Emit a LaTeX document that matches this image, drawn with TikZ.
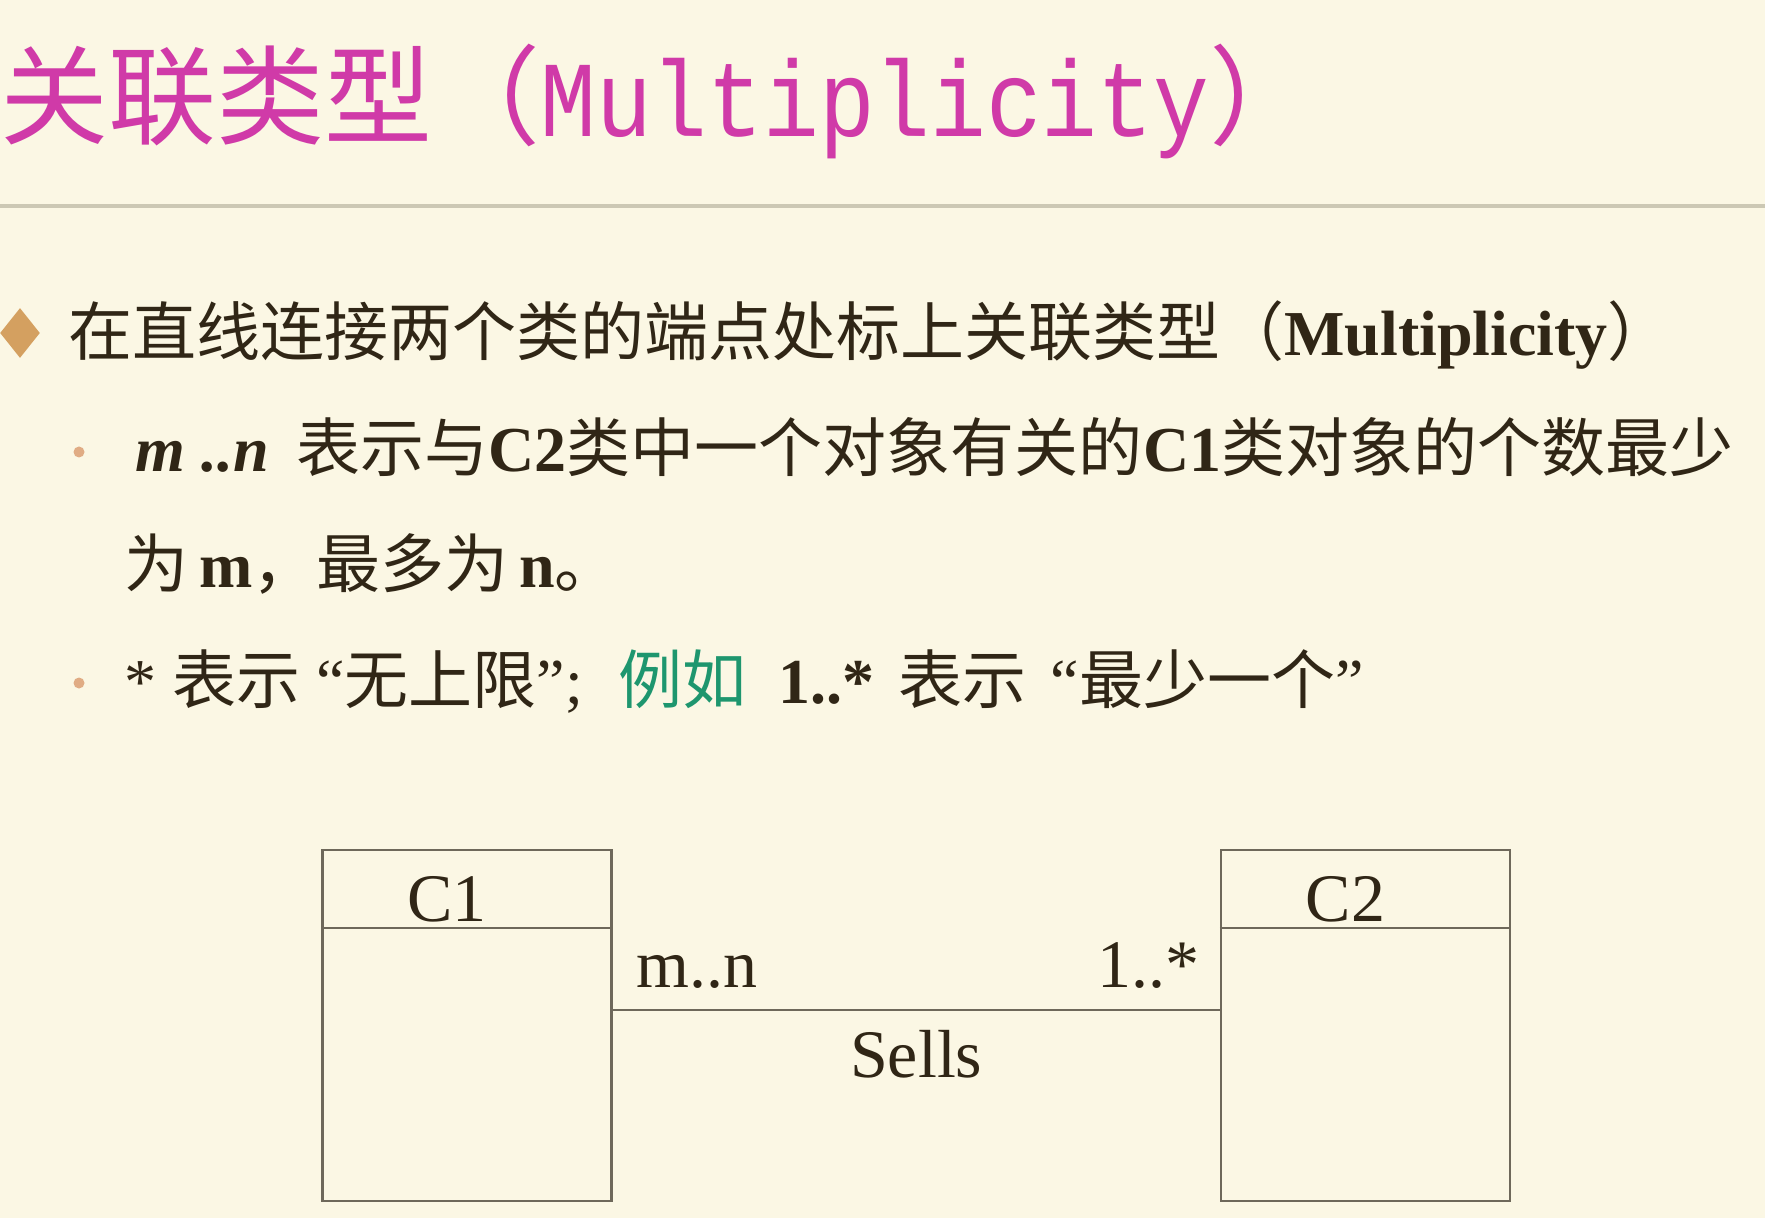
\documentclass[tikz,border=0pt]{standalone}
\usepackage{fontspec}
\usetikzlibrary{shapes.geometric}
\setmainfont{Liberation Serif}
\newfontfamily\cjk{Noto Sans CJK SC}
\newfontfamily\titlemono[FakeStretch=0.86]{Liberation Mono}
\definecolor{slidebg}{RGB}{251,247,228}
\definecolor{titlecol}{RGB}{208,58,168}
\definecolor{rulecol}{RGB}{204,200,180}
\definecolor{ink}{RGB}{48,38,22}
\definecolor{diamondcol}{RGB}{212,160,96}
\definecolor{dotcol}{RGB}{224,172,132}
\definecolor{examplecol}{RGB}{30,150,110}
\definecolor{boxline}{RGB}{110,104,90}
\begin{document}
\begin{tikzpicture}[x=0.5pt,y=-0.5pt]
    \tikzstyle{bodytext}=[anchor=base west,inner sep=0pt,text=ink,font=\fontsize{32pt}{38pt}\selectfont]
    \tikzstyle{bulletdot}=[circle,fill=dotcol,inner sep=0pt,minimum size=5.5pt]
    \tikzstyle{classbox}=[draw=boxline,line width=1.2pt,minimum width=144.5pt,minimum height=175.5pt,inner sep=0pt]
    \tikzstyle{umltext}=[inner sep=0pt,text=ink,font=\fontsize{34pt}{40pt}\selectfont]
    \tikzstyle{assoc}=[draw=boxline,line width=1.2pt]

    \fill[slidebg] (0,0) rectangle (1765,1218);
    \useasboundingbox (0,0) rectangle (1765,1218);

    % title
    \node[anchor=base west,inner sep=0pt,text=titlecol,font=\fontsize{54pt}{62pt}\selectfont] (title) at (0,137)
        {{\cjk 关联类型（}{\titlemono Multiplicity}{\cjk ）}};
    \draw[rulecol,line width=2pt] (0,206) -- (1765,206);

    % bullets
    \node[diamond,fill=diamondcol,inner sep=0pt,aspect=0.8,minimum width=20pt,minimum height=25pt] (b1) at (20,333) {};
    \node[bodytext] (t1) at (68,356)
        {{\cjk 在直线连接两个类的端点处标上关联类型（}\textbf{Multiplicity}{\cjk ）}};
    \node[bulletdot] (b2) at (79,452) {};
    \node[bodytext] (t2) at (135,472)
        {\textbf{\textit{m ..n}}\hspace{6pt} {\cjk 表示与}\textbf{C2}{\cjk 类中一个对象有关的}\textbf{C1}{\cjk 类对象的个数最少}};
    \node[bodytext] (t2b) at (124,588)
        {{\cjk 为}\,\textbf{m}{\cjk ，最多为}\,\textbf{n}{\cjk 。}};
    \node[bulletdot] (b3) at (79,683) {};
    \node[bodytext] (t3) at (124,703)
        {* {\cjk 表示} “{\cjk 无上限}”;\hspace{10pt} {\color{examplecol}\cjk 例如}\hspace{8pt} \textbf{1..*}\hspace{4pt} {\cjk 表示}\hspace{4pt} “{\cjk 最少一个}”};

    % class diagram
    \node[classbox] (c1) at (467,1025.5) {};
    \node[classbox] (c2) at (1365.5,1025.5) {};
    \draw[assoc] ([yshift=-39.5pt]c1.north west) -- ([yshift=-39.5pt]c1.north east);
    \draw[assoc] ([yshift=-39.5pt]c2.north west) -- ([yshift=-39.5pt]c2.north east);
    \node[umltext,anchor=base] (c1name) at ([xshift=-10pt,yshift=-36.5pt]c1.north) {C1};
    \node[umltext,anchor=base] (c2name) at ([xshift=-10pt,yshift=-36.5pt]c2.north) {C2};

    \draw[assoc] ([yshift=7.75pt]c1.east) -- ([yshift=7.75pt]c2.west)
        node[umltext,pos=0,anchor=base west,xshift=11.5pt,yshift=11.5pt] (mult1) {m..n}
        node[umltext,pos=1,anchor=base east,xshift=-9.5pt,yshift=11.5pt] (mult2) {1..*}
        node[umltext,midway,anchor=base,yshift=-33.5pt] (assocname) {Sells};
\end{tikzpicture}
\end{document}
